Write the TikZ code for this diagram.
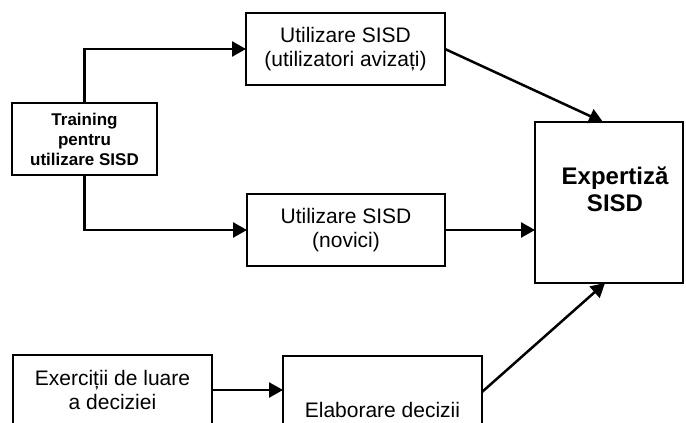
\documentclass[tikz,border=0pt]{standalone}
\usepackage{fontspec}
\setmainfont{Liberation Sans}
\usetikzlibrary{arrows.meta,calc}
\begin{document}
\begin{tikzpicture}[x=1pt,y=-1pt,
  box/.style={draw, line width=2pt, rectangle, align=center, inner sep=0pt,
    outer sep=0pt, font=\fontsize{21}{24}\selectfont},
  conn/.style={line width=2.5pt, -{Triangle[length=14pt,width=15pt]}}]
\useasboundingbox (0,0) rectangle (686,423);
\clip (0,0) rectangle (686,423);

% training block
\node[box, minimum width=145pt, minimum height=72pt,
  font=\bfseries\fontsize{17}{20}\selectfont] (train) at (84.5,139)
  {Training\\pentru\\utilizare SISD};

% usage blocks
\node[box, minimum width=199pt, minimum height=72pt] (top) at (345.5,49)
  {Utilizare SISD\\(utilizatori avizați)};
\node[box, minimum width=198pt, minimum height=72pt] (mid) at (346,230)
  {Utilizare SISD\\(novici)};

% result block
\node[box, minimum width=148pt, minimum height=161pt,
  font=\bfseries\fontsize{24}{27}\selectfont] (expert) at (609,202.5)
  {\begin{tabular}{@{\hspace{12pt}}c@{}}Expertiză\\SISD\\[19pt]\end{tabular}};

% decision blocks (running past the lower edge)
\node[box, minimum width=199pt, minimum height=70pt] (exer) at (112.5,390)
  {Exerciții de luare\\a deciziei};
\node[box, minimum width=199pt, minimum height=108pt] (elab) at (382.5,410)
  {Elaborare decizii};

% connectors
\draw[conn] (train.north) |- (top.west);
\draw[conn] (train.south) |- (mid.west);
\draw[conn] (top.east) -- ([xshift=-6pt]expert.north);
\draw[conn] (mid.east) -- (mid.east -| expert.west);
\draw[conn] (exer.east) -- (exer.east -| elab.west);
\draw[conn] ($(elab.north east)+(0,36)$) -- ([xshift=-4pt]expert.south);
\end{tikzpicture}
\end{document}
